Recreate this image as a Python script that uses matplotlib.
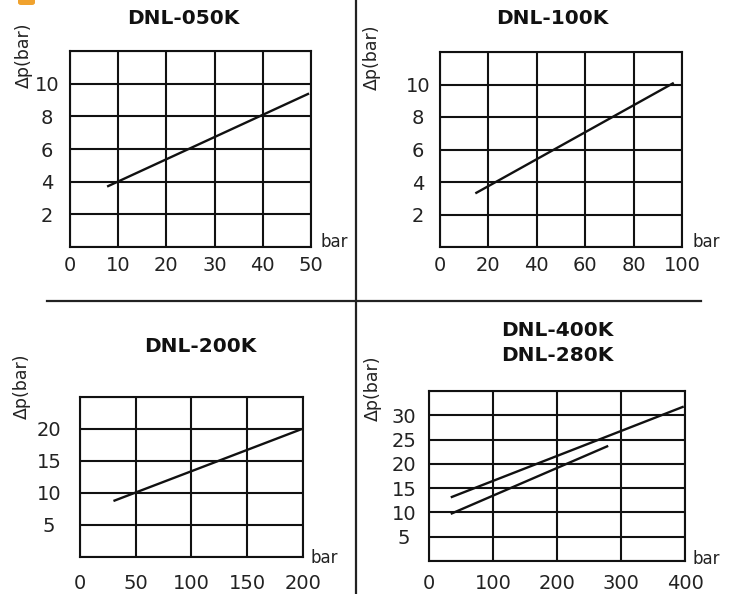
import matplotlib
matplotlib.use("Agg")
import matplotlib.pyplot as plt
from matplotlib.patches import FancyBboxPatch
from matplotlib.lines import Line2D

# dados (pressao x perda de carga)
titulos = ["DNL-050K", "DNL-100K", "DNL-200K", "DNL-400K\nDNL-280K"]

x050 = [7.7, 49.6]
y050 = [3.7, 9.4]

x100 = [14.6, 96.6]
y100 = [3.3, 10.1]

x200 = [30, 199]
y200 = [8.75, 20.0]

x400 = [34, 398]
y400 = [13.1, 31.8]

x280 = [34, 280]
y280 = [9.7, 23.7]

xticks050 = [0, 10, 20, 30, 40, 50]
xticks100 = [0, 20, 40, 60, 80, 100]
xticks200 = [0, 50, 100, 150, 200]
xticks400 = [0, 100, 200, 300, 400]

yticks050 = [0, 2, 4, 6, 8, 10, 12]
yticks100 = [0, 2, 4, 6, 8, 10, 12]
yticks200 = [0, 5, 10, 15, 20, 25]
yticks400 = [0, 5, 10, 15, 20, 25, 30, 35]

W, H = 738, 594
fig = plt.figure(figsize=(W / 100, H / 100), dpi=100)


def caixa(x0, y0, x1, y1):
    return [x0 / W, 1 - y1 / H, (x1 - x0) / W, (y1 - y0) / H]


def texto(x, y, s, **kw):
    fig.text(x / W, 1 - y / H, s, **kw)


def grafico(pos, xs, ys, xticks, yticks, padx, pady):
    ax = fig.add_axes(caixa(*pos))
    for x, y in zip(xs, ys):
        ax.plot(x, y, color="#111111", lw=1.7, solid_capstyle="butt")
    ax.set_xlim(xticks[0], xticks[-1])
    ax.set_ylim(yticks[0], yticks[-1])
    ax.set_xticks(xticks)
    ax.set_yticks(yticks)
    ax.set_xticklabels([str(t) for t in xticks])
    rotulos = [str(t) for t in yticks]
    rotulos[0] = ""
    rotulos[-1] = ""
    ax.set_yticklabels(rotulos, ha="center")
    ax.tick_params(length=0, labelsize=14, colors="#222222")
    ax.tick_params(axis="x", pad=padx * 0.72)
    ax.tick_params(axis="y", pad=pady * 0.72)
    ax.grid(True, color="#111111", lw=1.5)
    ax.set_axisbelow(False)
    for s in ax.spines.values():
        s.set_linewidth(1.5)
        s.set_color("#111111")
    return ax


grafico((70, 51, 311, 247), [x050], [y050], xticks050, yticks050, 9, 23)
grafico((440, 52, 682, 247), [x100], [y100], xticks100, yticks100, 9, 22)
grafico((80, 397, 303, 557), [x200], [y200], xticks200, yticks200, 17, 31)
grafico((429, 391, 685, 561), [x400, x280], [y400, y280], xticks400, yticks400, 13, 25)

# titulos
tit = dict(fontsize=14.5, fontweight="bold", ha="center", va="center", color="#111111")
texto(183, 18, titulos[0], **tit)
texto(552, 18, titulos[1], **tit)
texto(200, 347, titulos[2], **tit)
texto(557, 343, titulos[3], linespacing=1.35, **tit)

# eixos
rot = dict(fontsize=12.5, rotation=90, ha="center", va="center", color="#222222")
texto(24, 55, "Δp(bar)", **rot)
texto(372, 57, "Δp(bar)", **rot)
texto(22, 386, "Δp(bar)", **rot)
texto(373, 388, "Δp(bar)", **rot)

bar = dict(fontsize=12, ha="left", va="baseline", color="#222222")
texto(320, 247, "bar", **bar)
texto(692, 247, "bar", **bar)
texto(310, 563, "bar", **bar)
texto(692, 564, "bar", **bar)

# linhas divisorias
fig.add_artist(Line2D([356 / W, 356 / W], [0, 1], color="#222222", lw=1.6))
fig.add_artist(Line2D([47 / W, 701 / W], [1 - 301 / H, 1 - 301 / H], color="#222222", lw=1.6))

# icone laranja no canto
fig.add_artist(FancyBboxPatch((18 / W, 1 - 5 / H), 17 / W, 12 / H,
                              boxstyle="round,pad=0,rounding_size=0.004",
                              color="#F0A22E", lw=0, transform=fig.transFigure))

fig.savefig("out.png", dpi=100)
